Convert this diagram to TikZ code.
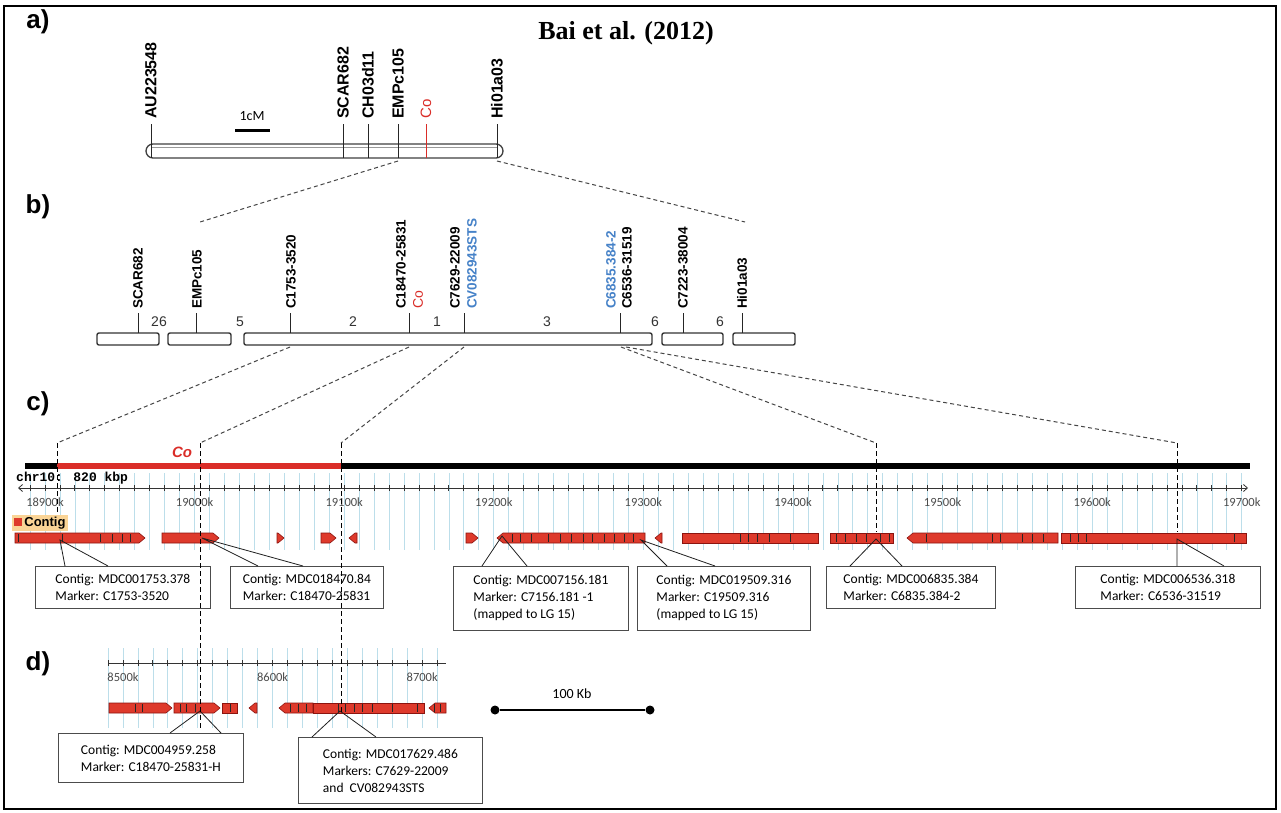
\documentclass[tikz,border=0pt]{standalone}
\usepackage{fontspec}
\setmainfont{Liberation Sans}
\newfontfamily\calib{Carlito}
\newfontfamily\tnr{Liberation Serif}
\newfontfamily\cmono{Liberation Mono}
\usetikzlibrary{arrows.meta}
\definecolor{coRed}{RGB}{218,45,40}
\definecolor{ctgRed}{RGB}{222,58,44}
\definecolor{ctgDark}{RGB}{140,20,15}
\definecolor{mkBlue}{RGB}{70,130,200}
\definecolor{gridBlue}{RGB}{188,222,234}
\definecolor{tanBg}{RGB}{250,212,150}
\newcommand{\fsz}[1]{\fontsize{#1}{#1}\selectfont}
% contig pieces: from x1 to x2 on track y
\newcommand{\ctgbox}[3]{\filldraw[contig] (#1,#3-5) rectangle (#2,#3+5);}
\newcommand{\ctgright}[3]{\filldraw[contig] (#1,#3-5) -- (#2-6,#3-5) -- (#2,#3) -- (#2-6,#3+5) -- (#1,#3+5) -- cycle;}
\newcommand{\ctgleft}[3]{\filldraw[contig] (#1+6,#3-5) -- (#2,#3-5) -- (#2,#3+5) -- (#1+6,#3+5) -- (#1,#3) -- cycle;}

\begin{document}
\begin{tikzpicture}[x=1pt,y=-1pt,
  mapbar/.style={draw=black!80, line width=1.4pt, rounded corners=2pt},
  mtick/.style={black!85, line width=1pt},
  mlabel/.style={rotate=90, anchor=west, inner sep=1pt, font=\bfseries\fsz{13.5}},
  numlbl/.style={font=\fsz{14}, text=black!80},
  zoomline/.style={gray!55!black, line width=1pt, dash pattern=on 4pt off 3pt},
  vdash/.style={black, line width=1pt, dash pattern=on 5pt off 3pt},
  contig/.style={fill=ctgRed, draw=ctgDark, line width=0.6pt},
  featmark/.style={black!85, line width=0.9pt},
  callout/.style={draw=gray!60!black, fill=white, line width=0.8pt, anchor=north west,
    align=left, inner xsep=8pt, inner ysep=4pt, font=\calib\fontsize{13.5}{17}\selectfont},
  pointer/.style={gray!25!black, line width=0.8pt},
  gridline/.style={gridBlue, line width=0.7pt},
  rulerlbl/.style={font=\calib\fsz{12.5}, text=black!70},
  panel/.style={font=\bfseries\fsz{26}}]
\useasboundingbox (0,0) rectangle (1281,812);
\fill[white] (0,0) rectangle (1281,812);
\draw[line width=2.5pt] (4,6) rectangle (1276,809);

% titles and panel letters
\node[font=\tnr\bfseries\fsz{26}] (title) at (626,33) {Bai et al. (2012)};
\node[panel] (pa) at (38,22) {a)};
\node[panel] (pb) at (38,207) {b)};
\node[panel] (pc) at (38,404) {c)};
\node[panel] (pd) at (38,664) {d)};

% a) genetic map
\draw[draw=black!75, line width=1.3pt, rounded corners=7pt] (146,144) rectangle (503,158);
\draw[black!40, line width=0.5pt] (152,147.5) -- (497,147.5);
\foreach \x/\name in {151/AU223548, 343/SCAR682, 368/CH03d11, 398/EMPc105, 497/Hi01a03} {
  \draw[mtick] (\x,124) -- (\x,158);
  \node[mlabel, font=\bfseries\fsz{16}] (a\name) at (\x,120) {\name};
}
\draw[coRed, line width=1pt] (426,124) -- (426,158);
\node[mlabel, coRed, font=\fsz{15}] (aCo) at (426,120) {Co};
\draw[line width=3pt] (235,130) -- (270,130);
\node[font=\calib\fsz{14}] (cM) at (252,116) {1cM};

\coordinate (aEMP) at (398,161);
\coordinate (aHi) at (497,161);
\coordinate (bLeft) at (200,222);
\coordinate (bRight) at (745,222);
\draw[zoomline] (aEMP) -- (bLeft);
\draw[zoomline] (aHi) -- (bRight);

% b) physical map
\draw[mapbar] (97,333) rectangle (159,345);
\draw[mapbar] (168,333) rectangle (231,345);
\draw[mapbar] (244,333) rectangle (652,345);
\draw[mapbar] (662,333) rectangle (723,345);
\draw[mapbar] (733,333) rectangle (795,345);
\foreach \x in {138,196,290,409,464,620,683,742}
  \draw[mtick] (\x,313) -- (\x,333);
\foreach \x/\txt [count=\i] in {138/SCAR682, 197/EMPc105, 291/C1753-3520,
    401/C18470-25831, 455/C7629-22009, 627/C6536-31519, 683/C7223-38004, 742/Hi01a03}
  \node[mlabel] (bm\i) at (\x,310) {\txt};
\node[mlabel, coRed, font=\fsz{14}] (bCo) at (418,310) {Co};
\node[mlabel, mkBlue] (bCV) at (472,310) {CV082943STS};
\node[mlabel, mkBlue] (bC6835) at (611,310) {C6835.384-2};
\foreach \x/\n [count=\i] in {159/26, 240/5, 353/2, 437/1, 547/3, 655/6, 720/6}
  \node[numlbl] (gap\i) at (\x,322) {\n};

\coordinate (b1753) at (290,347);
\coordinate (b18470) at (409,347);
\coordinate (b7629) at (464,347);
\coordinate (b6835) at (621,347);
\coordinate (b6536) at (626,347);
\coordinate (k1753) at (57,443);
\coordinate (k18470) at (200,443);
\coordinate (k7629) at (341,443);
\coordinate (k6835) at (876,443);
\coordinate (k6536) at (1177,443);

% c) sequence view
\foreach \i in {0,...,81}
  \draw[gridline] ({30+14.96*\i},473) -- ++(0,77);
\draw[line width=6pt] (25,466) -- (1250,466);
\draw[coRed, line width=6pt] (57,466) -- (341,466);
\node[coRed, font=\bfseries\itshape\fsz{15}] (cCo) at (182,452) {Co};
\node[anchor=west, font=\cmono\bfseries\fsz{13}, inner sep=0pt] (chr) at (16,478) {chr10: 820 kbp};
\draw[black!80, line width=0.8pt, {Straight Barb[length=4pt,width=7pt]}-{Straight Barb[length=4pt,width=7pt]}] (18,488) -- (1248,488);
\foreach \i in {0,...,81}
  \draw[black!80, line width=0.8pt] ({30+14.96*\i},485) -- ++(0,6);
\foreach \k [count=\i from 0] in {18900,19000,19100,19200,19300,19400,19500,19600,19700}
  \node[rulerlbl] (rk\i) at ({45+149.6*\i},502) {\k k};
\node[anchor=west, fill=tanBg, inner sep=2pt, font=\bfseries\fsz{13}] (ctgLbl) at (12,523)
  {\textcolor{ctgRed}{\rule{8pt}{8pt}}\,Contig};

\ctgright{15}{145}{538}
\ctgright{162}{219}{538}
\ctgright{277}{284}{538}
\ctgright{321}{336}{538}
\ctgleft{349}{357}{538}
\ctgright{466}{478}{538}
\ctgleft{497}{645}{538}
\ctgleft{655}{662}{538}
\ctgbox{682}{818}{538}
\ctgbox{830}{893}{538}
\ctgleft{907}{1058}{538}
\ctgbox{1061}{1246}{538}
\foreach \x in {18,62,100,112,122,130,512,520,531,548,560,571,583,592,604,614,624,633,
    740,748,757,769,790,836,845,856,866,880,889,926,992,1000,1022,1032,1043,1070,1078,1086,1234}
  \draw[featmark] (\x,534) -- (\x,542);

\coordinate (t1753) at (60,540);
\coordinate (t18470) at (202,538);
\coordinate (t7156) at (502,536);
\coordinate (t19509) at (641,540);
\coordinate (t6835) at (876,539);
\coordinate (t6536) at (1177,539);

\node[callout, minimum width=175pt, minimum height=42pt] (cMDC1753) at (35,566)
  {Contig: MDC001753.378\\Marker: C1753-3520};
\node[callout, minimum width=153pt, minimum height=42pt] (cMDC18470) at (230,566)
  {Contig: MDC018470.84\\Marker: C18470-25831};
\node[callout, minimum width=175pt, minimum height=64pt] (cMDC7156) at (453,566)
  {Contig: MDC007156.181\\Marker: C7156.181 -1\\(mapped to LG 15)};
\node[callout, minimum width=173pt, minimum height=64pt] (cMDC19509) at (637,566)
  {Contig: MDC019509.316\\Marker: C19509.316\\(mapped to LG 15)};
\node[callout, minimum width=169pt, minimum height=42pt] (cMDC6835) at (826,566)
  {Contig: MDC006835.384\\Marker: C6835.384-2};
\node[callout, minimum width=185pt, minimum height=42pt] (cMDC6536) at (1075,566)
  {Contig: MDC006536.318\\Marker: C6536-31519};

\draw[pointer] ([xshift=30pt]cMDC1753.north west) -- (t1753) -- ([xshift=73pt]cMDC1753.north west);
\draw[pointer] ([xshift=28pt]cMDC18470.north west) -- (t18470) -- ([xshift=73pt]cMDC18470.north west);
\draw[pointer] ([xshift=29pt]cMDC7156.north west) -- (t7156) -- ([xshift=74pt]cMDC7156.north west);
\draw[pointer] ([xshift=30pt]cMDC19509.north west) -- (t19509) -- ([xshift=78pt]cMDC19509.north west);
\draw[pointer] ([xshift=24pt]cMDC6835.north west) -- (t6835) -- ([xshift=76pt]cMDC6835.north west);
\draw[pointer] ([xshift=102pt]cMDC6536.north west) -- (t6536) -- ([xshift=149pt]cMDC6536.north west);

% d) second region
\foreach \i in {0,...,22}
  \draw[gridline] ({108+14.96*\i},648) -- ++(0,80);
\draw[black!80, line width=0.8pt] (108,663) -- (446,663);
\foreach \i in {0,...,22}
  \draw[black!80, line width=0.8pt] ({108+14.96*\i},660) -- ++(0,6);
\foreach \k [count=\i from 0] in {8500,8600,8700}
  \node[rulerlbl] (dk\i) at ({123+149.6*\i},677) {\k k};

\ctgright{109}{172}{708}
\ctgright{174}{220}{708}
\ctgbox{222}{237}{708}
\ctgleft{249}{257}{708}
\ctgleft{279}{313}{708}
\ctgbox{313}{424}{708}
\ctgleft{429}{446}{708}
\foreach \x in {135,142,180,186,195,230,290,298,306,338,345,354,362,372,392,417,434,440}
  \draw[featmark] (\x,704) -- (\x,712);

\coordinate (t4959) at (200,711);
\coordinate (t17629) at (340,711);
\node[callout, minimum width=185pt, minimum height=49pt] (cMDC4959) at (58,733)
  {Contig: MDC004959.258\\Marker: C18470-25831-H};
\node[callout, minimum width=184pt, minimum height=66pt] (cMDC17629) at (298,737)
  {Contig: MDC017629.486\\Markers: C7629-22009\\and\ \ CV082943STS};
\draw[pointer] ([xshift=112pt]cMDC4959.north west) -- (t4959) -- ([xshift=163pt]cMDC4959.north west);
\draw[pointer] ([xshift=14pt]cMDC17629.north west) -- (t17629) -- ([xshift=78pt]cMDC17629.north west);

% scale bar
\node[circle, fill, inner sep=0pt, minimum size=9pt] (sbL) at (495,710) {};
\node[circle, fill, inner sep=0pt, minimum size=9pt] (sbR) at (650,710) {};
\draw[line width=1.5pt] (sbL) -- (sbR);
\node[font=\calib\fsz{14}] (sbLbl) at (572,694) {100 Kb};

% zoom lines b) -> c), then down the tracks
\draw[zoomline] (b1753) -- (k1753);
\draw[zoomline] (b18470) -- (k18470);
\draw[zoomline] (b7629) -- (k7629);
\draw[zoomline] (b6835) -- (k6835);
\draw[zoomline] (b6536) -- (k6536);
\draw[vdash] (k1753) -- ++(0,69);
\draw[vdash] (k18470) -- ++(0,285);
\draw[vdash] (k7629) -- ++(0,269);
\draw[vdash] (k6835) -- ++(0,89);
\draw[vdash] (k6536) -- ++(0,89);
\end{tikzpicture}
\end{document}
